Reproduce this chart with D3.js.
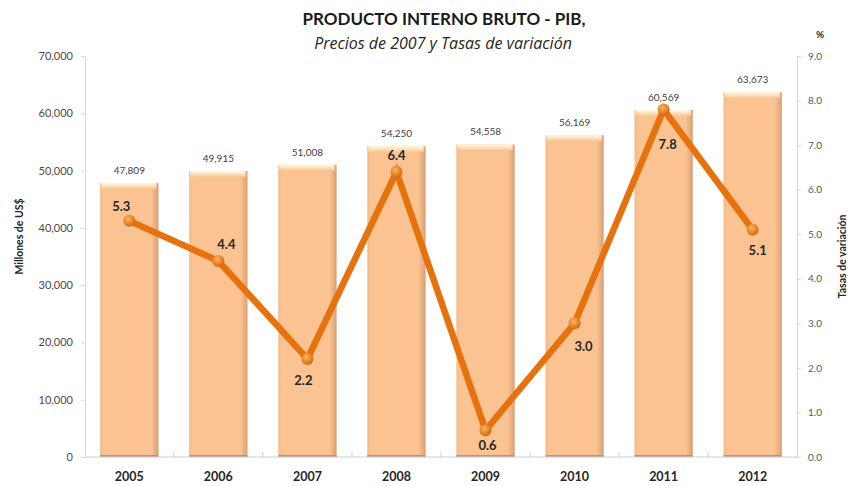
<!DOCTYPE html>
<html>
<head>
<meta charset="utf-8">
<script src="https://cdn.jsdelivr.net/npm/d3@7/dist/d3.min.js"></script>
<style>
  html, body { margin: 0; padding: 0; background: #ffffff; }
  svg { display: block; font-family: Lato, "Open Sans", sans-serif; }
</style>
</head>
<body>
<svg id="chart" width="851" height="486"></svg>
<script>
// GDP at constant 2007 prices (millions of US$) and annual growth rate (%)
const years = ["2005", "2006", "2007", "2008", "2009", "2010", "2011", "2012"];
const gdp = [47809, 49915, 51008, 54250, 54558, 56169, 60569, 63673];
const growth = [5.3, 4.4, 2.2, 6.4, 0.6, 3.0, 7.8, 5.1];
const gdpTicks = [0, 10000, 20000, 30000, 40000, 50000, 60000, 70000];
const rateTicks = [0, 1, 2, 3, 4, 5, 6, 7, 8, 9];

// where each growth label sits relative to its marker
const rateLabelOffset = [[-8, -15], [8, -17], [-4, 21], [0, -17], [2, 15], [9, 23], [4, 35], [5, 20]];

const W = 851, H = 486;
const margin = { left: 85, right: 54, top: 56, bottom: 29 };
const x0 = margin.left, x1 = W - margin.right;
const yTop = margin.top, yBase = H - margin.bottom;

const svg = d3.select("#chart");
const defs = svg.append("defs");

// bar body: flat light orange with a darker right edge
const barGrad = defs.append("linearGradient").attr("id", "barGrad")
  .attr("x1", "0").attr("x2", "1").attr("y1", "0").attr("y2", "0");
barGrad.append("stop").attr("offset", "0%").attr("stop-color", "#f5b985");
barGrad.append("stop").attr("offset", "6%").attr("stop-color", "#fac391");
barGrad.append("stop").attr("offset", "88%").attr("stop-color", "#fac391");
barGrad.append("stop").attr("offset", "100%").attr("stop-color", "#d99e72");

// light cap along the top of each bar
const capGrad = defs.append("linearGradient").attr("id", "capGrad")
  .attr("x1", "0").attr("x2", "0").attr("y1", "0").attr("y2", "1");
capGrad.append("stop").attr("offset", "0%").attr("stop-color", "#fffbe6");
capGrad.append("stop").attr("offset", "100%").attr("stop-color", "#fac391");

// marker fill
const dotGrad = defs.append("radialGradient").attr("id", "dotGrad")
  .attr("cx", "40%").attr("cy", "35%").attr("r", "65%");
dotGrad.append("stop").attr("offset", "0%").attr("stop-color", "#fbb45c");
dotGrad.append("stop").attr("offset", "100%").attr("stop-color", "#d7680c");

const x = d3.scaleBand().domain(years).range([x0, x1]).paddingInner(0.345).paddingOuter(0.17);
const yL = d3.scaleLinear().domain([0, 70000]).range([yBase, yTop]);
const yR = d3.scaleLinear().domain([0, 9]).range([yBase, yTop]);

// ---- titles ----
svg.append("text").attr("x", 444).attr("y", 25).attr("text-anchor", "middle")
  .attr("font-size", 17).attr("font-weight", "bold").attr("fill", "#1a1a1a")
  .text("PRODUCTO INTERNO BRUTO - PIB,");
svg.append("text").attr("x", 443).attr("y", 49).attr("text-anchor", "middle")
  .attr("font-family", "'Open Sans', sans-serif")
  .attr("font-size", 16).attr("font-style", "italic").attr("fill", "#262626")
  .text("Precios de 2007 y Tasas de variación");

// ---- axes ----
const axisL = d3.axisLeft(yL).tickValues(gdpTicks).tickSize(4).tickPadding(8)
  .tickFormat(d3.format(","));
const gL = svg.append("g").attr("transform", `translate(${x0},0)`).call(axisL);
gL.select(".domain").attr("stroke", "#d9d9d9");
gL.selectAll(".tick line").attr("stroke", "#d9d9d9");
gL.selectAll(".tick text").attr("font-size", 11).attr("fill", "#4a4a4a")
  .attr("font-family", "Lato, sans-serif");

const axisR = d3.axisRight(yR).tickValues(rateTicks).tickSize(4).tickPadding(7)
  .tickFormat(d3.format(".1f"));
const gR = svg.append("g").attr("transform", `translate(${x1},0)`).call(axisR);
gR.select(".domain").attr("stroke", "#d9d9d9");
gR.selectAll(".tick line").attr("stroke", "#d9d9d9");
gR.selectAll(".tick text").attr("font-size", 10).attr("fill", "#595959")
  .attr("font-family", "Lato, sans-serif");

svg.append("text").attr("x", 820).attr("y", 38).attr("text-anchor", "middle")
  .attr("font-size", 10).attr("font-weight", "bold").attr("fill", "#262626").text("%");

svg.append("text").attr("transform", `translate(23,${(yTop + yBase) / 2 - 20}) rotate(-90)`)
  .attr("text-anchor", "middle").attr("font-size", 10.5).attr("font-weight", "bold")
  .attr("fill", "#262626").text("Millones de US$");
svg.append("text").attr("transform", `translate(846,${(yTop + yBase) / 2}) rotate(-90)`)
  .attr("text-anchor", "middle").attr("font-size", 10.5).attr("font-weight", "bold")
  .attr("fill", "#262626").text("Tasas de variación");

// ---- bars ----
const bars = svg.append("g");
bars.selectAll("rect.bar").data(years).join("rect").attr("class", "bar")
  .attr("x", d => x(d)).attr("width", x.bandwidth())
  .attr("y", (d, i) => yL(gdp[i])).attr("height", (d, i) => yBase - yL(gdp[i]))
  .attr("fill", "url(#barGrad)");
bars.selectAll("rect.cap").data(years).join("rect").attr("class", "cap")
  .attr("x", d => x(d) + 1).attr("width", x.bandwidth() - 3)
  .attr("y", (d, i) => yL(gdp[i])).attr("height", 6)
  .attr("fill", "url(#capGrad)");
bars.selectAll("line.bottom").data(years).join("line").attr("class", "bottom")
  .attr("x1", d => x(d)).attr("x2", d => x(d) + x.bandwidth())
  .attr("y1", yBase - 1).attr("y2", yBase - 1)
  .attr("stroke", "#c99068").attr("stroke-width", 2);

// x axis (category) line with ticks between categories
svg.append("line").attr("x1", x0).attr("x2", x1).attr("y1", yBase).attr("y2", yBase)
  .attr("stroke", "#c6d0dc").attr("stroke-width", 1);
const between = years.slice(1).map(d => x(d) - x.step() * x.paddingInner() / 2);
svg.selectAll("line.xtick").data(between).join("line").attr("class", "xtick")
  .attr("x1", d => d).attr("x2", d => d).attr("y1", yBase).attr("y2", yBase - 5)
  .attr("stroke", "#c6d0dc");

svg.selectAll("text.year").data(years).join("text").attr("class", "year")
  .attr("x", d => x(d) + x.bandwidth() / 2).attr("y", yBase + 24)
  .attr("text-anchor", "middle").attr("font-size", 12.5).attr("font-weight", "bold")
  .attr("fill", "#262626").text(d => d);

// GDP value labels above the bars
svg.selectAll("text.gdp").data(years).join("text").attr("class", "gdp")
  .attr("x", d => x(d) + x.bandwidth() / 2).attr("y", (d, i) => yL(gdp[i]) - 9)
  .attr("text-anchor", "middle").attr("font-size", 10).attr("fill", "#404040")
  .text((d, i) => d3.format(",")(gdp[i]));

// ---- growth line ----
const cx = d => x(d) + x.bandwidth() / 2;
const line = d3.line().x((d, i) => cx(years[i])).y(d => yR(d));
svg.append("path").datum(growth).attr("d", line)
  .attr("fill", "none").attr("stroke", "#e6710d").attr("stroke-width", 6.5)
  .attr("stroke-linejoin", "miter").attr("stroke-linecap", "round");
svg.selectAll("circle.dot").data(growth).join("circle").attr("class", "dot")
  .attr("cx", (d, i) => cx(years[i])).attr("cy", d => yR(d)).attr("r", 6)
  .attr("fill", "url(#dotGrad)");

svg.selectAll("text.rate").data(growth).join("text").attr("class", "rate")
  .attr("x", (d, i) => cx(years[i]) + rateLabelOffset[i][0])
  .attr("y", (d, i) => yR(d) + rateLabelOffset[i][1] + 5)
  .attr("text-anchor", "middle").attr("font-size", 13).attr("font-weight", "bold")
  .attr("fill", "#262626").text(d => d3.format(".1f")(d));
</script>
</body>
</html>
